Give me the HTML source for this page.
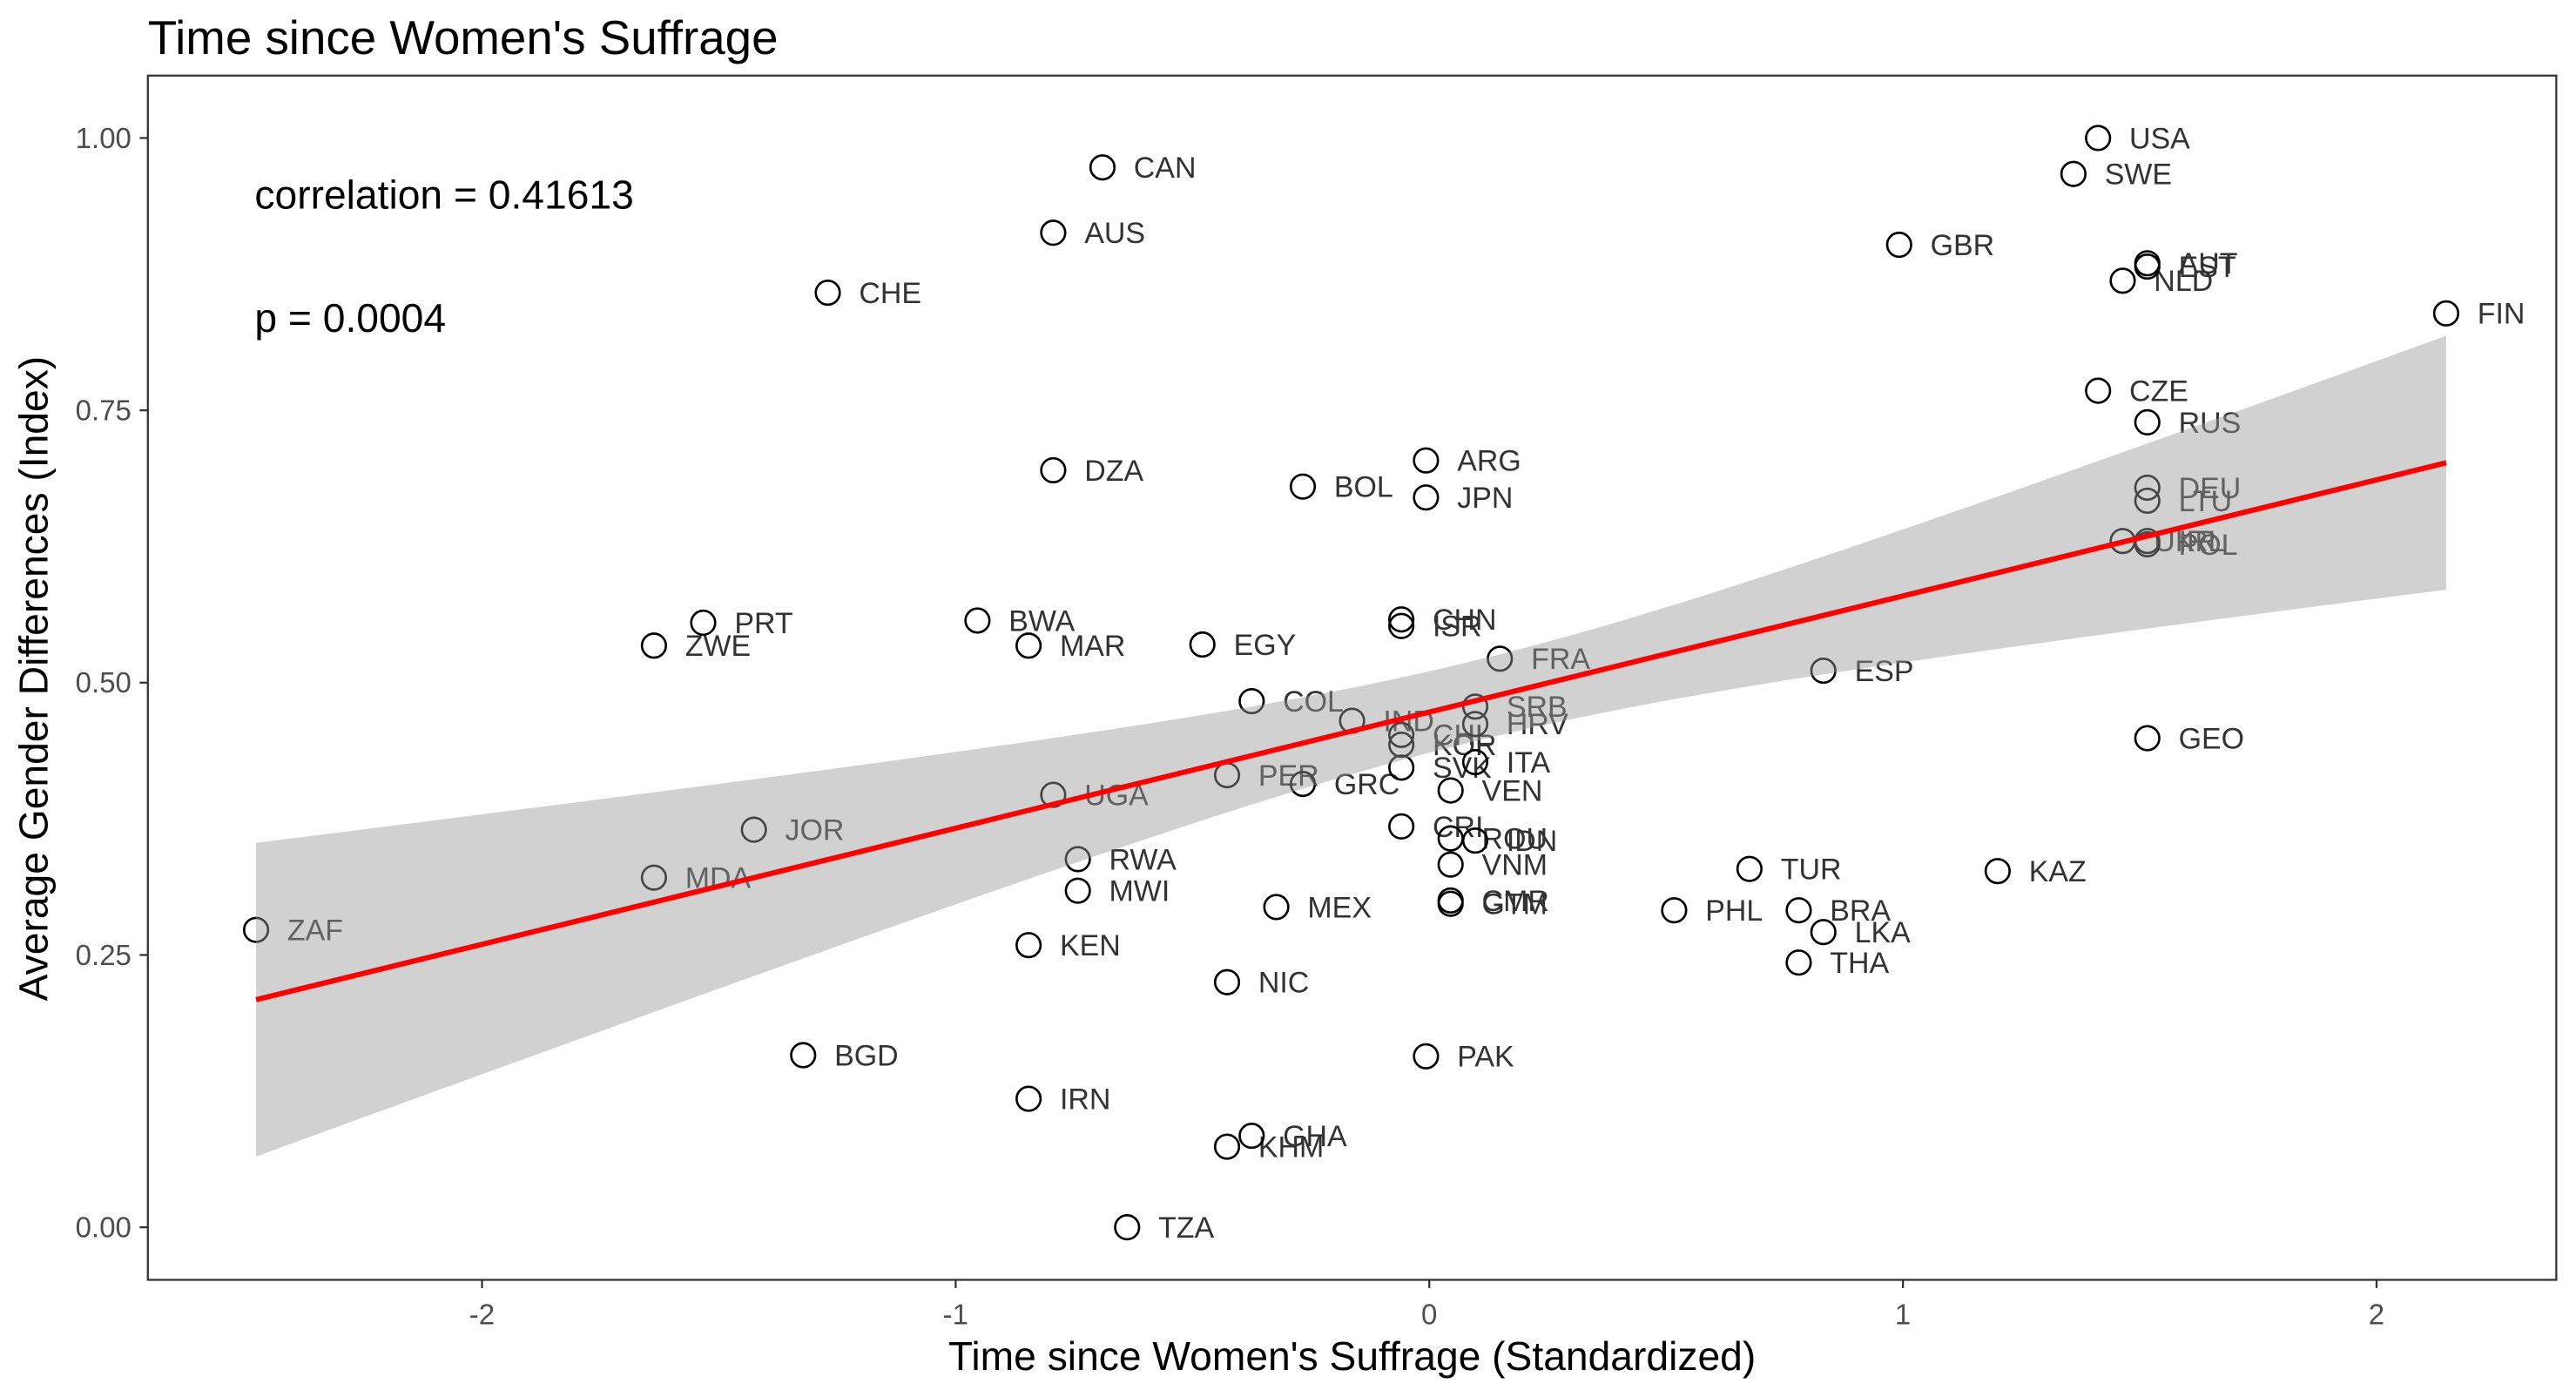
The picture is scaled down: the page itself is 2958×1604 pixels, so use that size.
<!DOCTYPE html>
<html><head><meta charset="utf-8"><style>
html,body{margin:0;padding:0;background:#fff;}
svg{display:block;font-family:"Liberation Sans",Arial,sans-serif;}
</style></head><body>
<svg id="chart" width="2958" height="1604" viewBox="0 0 1568 850.3" preserveAspectRatio="none" xmlns="http://www.w3.org/2000/svg">
<rect x="0" y="0" width="1568" height="851" fill="#fff"/>
<text x="90" y="33" font-size="29" fill="#000">Time since Women's Suffrage</text>
<rect x="90" y="46" width="1466" height="733" fill="#fff" stroke="#333" stroke-width="1.2"/>
<g id="points"></g>
<g id="ribbon"></g>
<g id="fitline"></g>
<g id="axes"></g>
<text x="155" y="127" font-size="24.5" fill="#000">correlation = 0.41613</text>
<text x="155" y="202" font-size="24.5" fill="#000">p = 0.0004</text>
<text x="823" y="834" font-size="24.5" text-anchor="middle" fill="#000">Time since Women's Suffrage (Standardized)</text>
<text transform="translate(29,413) rotate(-90)" font-size="24.5" text-anchor="middle" fill="#000">Average Gender Differences (Index)</text>
</svg>
<script>
const countries = ["ZAF","MDA","ZWE","PRT","JOR","BGD","CHE","BWA","MAR","KEN","IRN","AUS","DZA","UGA","RWA","MWI","TZA","CAN","EGY","PER","NIC","KHM","COL","GHA","MEX","BOL","GRC","IND","CHN","ISR","CHL","KOR","SVK","CRI","ARG","JPN","PAK","VEN","ROU","VNM","CMR","GTM","SRB","HRV","ITA","IDN","FRA","PHL","TUR","BRA","THA","LKA","ESP","GBR","KAZ","USA","SWE","CZE","NLD","AUT","EST","RUS","DEU","LTU","UKR","IRL","POL","GEO","FIN"];
const xValues = [-2.477,-1.637,-1.637,-1.533,-1.426,-1.322,-1.27,-0.954,-0.846,-0.846,-0.846,-0.794,-0.794,-0.794,-0.742,-0.742,-0.638,-0.69,-0.479,-0.427,-0.427,-0.427,-0.375,-0.375,-0.323,-0.267,-0.267,-0.163,-0.059,-0.059,-0.059,-0.059,-0.059,-0.059,-0.007,-0.007,-0.007,0.045,0.045,0.045,0.045,0.045,0.097,0.097,0.097,0.097,0.149,0.517,0.676,0.78,0.78,0.832,0.832,0.992,1.2,1.412,1.36,1.412,1.464,1.516,1.516,1.516,1.516,1.516,1.464,1.516,1.516,1.516,2.147];
const yValues = [0.273,0.321,0.534,0.555,0.365,0.158,0.858,0.557,0.534,0.259,0.118,0.913,0.695,0.397,0.338,0.309,0.000,0.973,0.535,0.415,0.225,0.074,0.483,0.084,0.294,0.680,0.407,0.465,0.558,0.552,0.452,0.443,0.422,0.368,0.704,0.670,0.157,0.401,0.357,0.333,0.300,0.297,0.478,0.462,0.427,0.355,0.522,0.291,0.329,0.291,0.243,0.271,0.511,0.902,0.327,1.000,0.967,0.768,0.869,0.885,0.882,0.739,0.679,0.667,0.630,0.630,0.627,0.449,0.839];
const fitParams = [0.473, 0.1066];        // intercept, slope
const ribbonParams = [0.1, 0.037, 0.054]; // center x, min half-width, spread
const xRange = [-2.477, 2.147];
const xTicks = [-2, -1, 0, 1, 2];
const xTickLabels = ["-2","-1","0","1","2"];
const yTicks = [0, 0.25, 0.5, 0.75, 1];
const yTickLabels = ["0.00","0.25","0.50","0.75","1.00"];

const NS = "http://www.w3.org/2000/svg";
const X = v => 870 + 288.3 * v;
const Y = v => 747 - 663 * v;
function mk(tag, attrs, parent){const e=document.createElementNS(NS,tag);for(const k in attrs)e.setAttribute(k,attrs[k]);parent.appendChild(e);return e;}

const gp = document.getElementById("points");
for (let i=0;i<countries.length;i++){
  const g = mk("g",{},gp);
  
  
  mk("circle",{cx:X(xValues[i]),cy:Y(yValues[i]),r:7.3,fill:"none",stroke:"#000","stroke-width":1.4},g);
  const t = mk("text",{x:X(xValues[i])+19,y:Y(yValues[i])+6.3,"font-size":18,fill:"#333"},g);
  t.textContent = countries[i];
}

const fit = v => fitParams[0] + fitParams[1]*v;
const hw = v => Math.sqrt(ribbonParams[1]**2 + (ribbonParams[2]*(v-ribbonParams[0]))**2);
let up=[], lo=[];
for (let k=0;k<=80;k++){
  const v = xRange[0] + (xRange[1]-xRange[0])*k/80;
  up.push(X(v).toFixed(2)+","+Y(fit(v)+hw(v)).toFixed(2));
  lo.push(X(v).toFixed(2)+","+Y(fit(v)-hw(v)).toFixed(2));
}
const rib = mk("polygon",{points:up.concat(lo.reverse()).join(" "),fill:"#999","fill-opacity":0.45,stroke:"none"},document.getElementById("ribbon"));


const ln = mk("line",{x1:X(xRange[0]),y1:Y(fit(xRange[0])),x2:X(xRange[1]),y2:Y(fit(xRange[1])),stroke:"#ff0000","stroke-width":3.2},document.getElementById("fitline"));



const ga = document.getElementById("axes");
xTicks.forEach((v,i)=>{
  const l = mk("line",{x1:X(v),y1:779,x2:X(v),y2:784,stroke:"#333","stroke-width":1.2},ga);
  
  
  const t = mk("text",{x:X(v),y:806,"font-size":17.5,"text-anchor":"middle",fill:"#4d4d4d"},ga);
  
  
  t.textContent = xTickLabels[i];
});
yTicks.forEach((v,i)=>{
  const l = mk("line",{x1:85,y1:Y(v),x2:90,y2:Y(v),stroke:"#333","stroke-width":1.2},ga);
  
  
  const t = mk("text",{x:80,y:Y(v)+6,"font-size":17.5,"text-anchor":"end",fill:"#4d4d4d"},ga);
  
  
  t.textContent = yTickLabels[i];
});
</script>
</body></html>
